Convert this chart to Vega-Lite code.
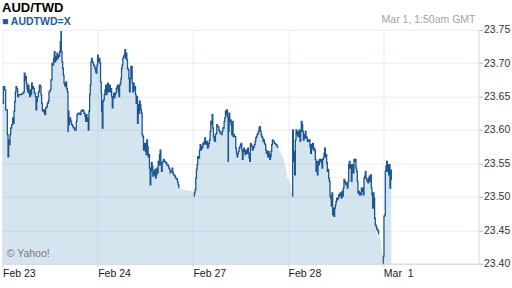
{
  "$schema": "https://vega.github.io/schema/vega-lite/v6.json",
  "width": 476,
  "height": 234,
  "autosize": "none",
  "padding": {"left": 2.5, "top": 29.7, "right": 33.5, "bottom": 24.3},
  "background": "white",
  "config": {
    "view": {"stroke": null},
    "font": "Liberation Sans"
  },
  "title": {
    "text": "AUD/TWD",
    "subtitle": "■ AUDTWD=X",
    "anchor": "start",
    "frame": "group",
    "font": "Liberation Sans",
    "fontSize": 13,
    "fontWeight": "bold",
    "color": "#000000",
    "subtitleFont": "Liberation Sans",
    "subtitleFontSize": 10.5,
    "subtitleFontWeight": "bold",
    "subtitleColor": "#1f5b9a",
    "subtitlePadding": 2,
    "offset": -12.5,
    "dx": -0.5
  },
  "datasets": {
    "fx": [
      {"t":0,"v":23.64,"s":1},{"t":0.009,"v":23.665,"s":1},{"t":0.023,"v":23.66,"s":1},{"t":0.033,"v":23.63,"s":1},{"t":0.044,"v":23.63,"s":1},{"t":0.051,"v":23.593,"s":1},{"t":0.058,"v":23.56,"s":1},{"t":0.065,"v":23.585,"s":1},{"t":0.072,"v":23.578,"s":1},{"t":0.079,"v":23.593,"s":1},{"t":0.086,"v":23.603,"s":1},{"t":0.096,"v":23.608,"s":1},{"t":0.107,"v":23.618,"s":1},{"t":0.114,"v":23.61,"s":1},{"t":0.121,"v":23.628,"s":1},{"t":0.128,"v":23.642,"s":1},{"t":0.135,"v":23.657,"s":1},{"t":0.142,"v":23.665,"s":1},{"t":0.149,"v":23.662,"s":1},{"t":0.159,"v":23.65,"s":1},{"t":0.17,"v":23.653,"s":1},{"t":0.184,"v":23.653,"s":1},{"t":0.198,"v":23.654,"s":1},{"t":0.212,"v":23.655,"s":1},{"t":0.222,"v":23.657,"s":1},{"t":0.229,"v":23.685,"s":1},{"t":0.236,"v":23.675,"s":1},{"t":0.243,"v":23.68,"s":1},{"t":0.25,"v":23.67,"s":1},{"t":0.257,"v":23.662,"s":1},{"t":0.264,"v":23.657,"s":1},{"t":0.271,"v":23.667,"s":1},{"t":0.278,"v":23.655,"s":1},{"t":0.285,"v":23.65,"s":1},{"t":0.292,"v":23.66,"s":1},{"t":0.299,"v":23.653,"s":1},{"t":0.306,"v":23.67,"s":1},{"t":0.313,"v":23.662,"s":1},{"t":0.32,"v":23.665,"s":1},{"t":0.327,"v":23.662,"s":1},{"t":0.334,"v":23.655,"s":1},{"t":0.345,"v":23.65,"s":1},{"t":0.352,"v":23.63,"s":1},{"t":0.359,"v":23.643,"s":1},{"t":0.366,"v":23.65,"s":1},{"t":0.376,"v":23.657,"s":1},{"t":0.387,"v":23.667,"s":1},{"t":0.397,"v":23.665,"s":1},{"t":0.404,"v":23.653,"s":1},{"t":0.411,"v":23.64,"s":1},{"t":0.418,"v":23.63,"s":1},{"t":0.425,"v":23.628,"s":1},{"t":0.432,"v":23.63,"s":1},{"t":0.439,"v":23.625,"s":1},{"t":0.446,"v":23.623,"s":1},{"t":0.453,"v":23.633,"s":1},{"t":0.464,"v":23.635,"s":1},{"t":0.471,"v":23.64,"s":1},{"t":0.481,"v":23.643,"s":1},{"t":0.488,"v":23.657,"s":1},{"t":0.499,"v":23.66,"s":1},{"t":0.509,"v":23.675,"s":1},{"t":0.52,"v":23.7,"s":1},{"t":0.53,"v":23.697,"s":1},{"t":0.537,"v":23.707,"s":1},{"t":0.544,"v":23.717,"s":1},{"t":0.551,"v":23.702,"s":1},{"t":0.558,"v":23.71,"s":1},{"t":0.565,"v":23.705,"s":1},{"t":0.572,"v":23.715,"s":1},{"t":0.579,"v":23.707,"s":1},{"t":0.586,"v":23.712,"s":1},{"t":0.593,"v":23.71,"s":1},{"t":0.6,"v":23.717,"s":1},{"t":0.607,"v":23.732,"s":1},{"t":0.614,"v":23.747,"s":1},{"t":0.618,"v":23.717,"s":1},{"t":0.625,"v":23.702,"s":1},{"t":0.632,"v":23.692,"s":1},{"t":0.639,"v":23.682,"s":1},{"t":0.646,"v":23.67,"s":1},{"t":0.653,"v":23.667,"s":1},{"t":0.66,"v":23.665,"s":1},{"t":0.667,"v":23.672,"s":1},{"t":0.674,"v":23.662,"s":1},{"t":0.681,"v":23.657,"s":1},{"t":0.688,"v":23.598,"s":1},{"t":0.691,"v":23.628,"s":1},{"t":0.698,"v":23.608,"s":1},{"t":0.705,"v":23.618,"s":1},{"t":0.716,"v":23.613,"s":1},{"t":0.726,"v":23.608,"s":1},{"t":0.737,"v":23.605,"s":1},{"t":0.747,"v":23.603,"s":1},{"t":0.758,"v":23.6,"s":1},{"t":0.768,"v":23.6,"s":1},{"t":0.775,"v":23.613,"s":1},{"t":0.782,"v":23.623,"s":1},{"t":0.793,"v":23.625,"s":1},{"t":0.803,"v":23.625,"s":1},{"t":0.814,"v":23.623,"s":1},{"t":0.824,"v":23.628,"s":1},{"t":0.835,"v":23.63,"s":1},{"t":0.845,"v":23.629,"s":1},{"t":0.856,"v":23.625,"s":1},{"t":0.866,"v":23.62,"s":1},{"t":0.873,"v":23.613,"s":1},{"t":0.88,"v":23.623,"s":1},{"t":0.887,"v":23.618,"s":1},{"t":0.894,"v":23.613,"s":1},{"t":0.901,"v":23.6,"s":1},{"t":0.908,"v":23.628,"s":1},{"t":0.915,"v":23.653,"s":1},{"t":0.922,"v":23.667,"s":1},{"t":0.929,"v":23.702,"s":1},{"t":0.936,"v":23.707,"s":1},{"t":0.943,"v":23.702,"s":1},{"t":0.95,"v":23.7,"s":1},{"t":0.957,"v":23.697,"s":1},{"t":0.964,"v":23.695,"s":1},{"t":0.971,"v":23.692,"s":1},{"t":0.978,"v":23.687,"s":1},{"t":0.985,"v":23.685,"s":1},{"t":0.992,"v":23.697,"s":1},{"t":0.999,"v":23.712,"s":1},{"t":1.006,"v":23.702,"s":1},{"t":1.013,"v":23.707,"s":1},{"t":1.023,"v":23.7,"s":1},{"t":1.03,"v":23.672,"s":1},{"t":1.037,"v":23.655,"s":1},{"t":1.041,"v":23.628,"s":1},{"t":1.048,"v":23.603,"s":1},{"t":1.055,"v":23.643,"s":1},{"t":1.062,"v":23.645,"s":1},{"t":1.069,"v":23.653,"s":1},{"t":1.076,"v":23.66,"s":1},{"t":1.083,"v":23.667,"s":1},{"t":1.09,"v":23.653,"s":1},{"t":1.097,"v":23.662,"s":1},{"t":1.104,"v":23.67,"s":1},{"t":1.111,"v":23.657,"s":1},{"t":1.118,"v":23.665,"s":1},{"t":1.125,"v":23.667,"s":1},{"t":1.132,"v":23.657,"s":1},{"t":1.139,"v":23.662,"s":1},{"t":1.146,"v":23.65,"s":1},{"t":1.153,"v":23.633,"s":1},{"t":1.16,"v":23.65,"s":1},{"t":1.167,"v":23.655,"s":1},{"t":1.174,"v":23.648,"s":1},{"t":1.181,"v":23.653,"s":1},{"t":1.188,"v":23.655,"s":1},{"t":1.195,"v":23.662,"s":1},{"t":1.202,"v":23.665,"s":1},{"t":1.209,"v":23.667,"s":1},{"t":1.216,"v":23.657,"s":1},{"t":1.223,"v":23.65,"s":1},{"t":1.23,"v":23.667,"s":1},{"t":1.237,"v":23.67,"s":1},{"t":1.244,"v":23.677,"s":1},{"t":1.25,"v":23.692,"s":1},{"t":1.257,"v":23.697,"s":1},{"t":1.264,"v":23.707,"s":1},{"t":1.271,"v":23.71,"s":1},{"t":1.278,"v":23.712,"s":1},{"t":1.285,"v":23.72,"s":1},{"t":1.292,"v":23.707,"s":1},{"t":1.299,"v":23.715,"s":1},{"t":1.306,"v":23.705,"s":1},{"t":1.313,"v":23.692,"s":1},{"t":1.32,"v":23.69,"s":1},{"t":1.327,"v":23.677,"s":1},{"t":1.334,"v":23.657,"s":1},{"t":1.341,"v":23.677,"s":1},{"t":1.348,"v":23.695,"s":1},{"t":1.355,"v":23.695,"s":1},{"t":1.362,"v":23.67,"s":1},{"t":1.369,"v":23.657,"s":1},{"t":1.376,"v":23.67,"s":1},{"t":1.383,"v":23.66,"s":1},{"t":1.39,"v":23.665,"s":1},{"t":1.397,"v":23.653,"s":1},{"t":1.404,"v":23.64,"s":1},{"t":1.411,"v":23.65,"s":1},{"t":1.418,"v":23.61,"s":1},{"t":1.425,"v":23.638,"s":1},{"t":1.432,"v":23.625,"s":1},{"t":1.439,"v":23.643,"s":1},{"t":1.446,"v":23.638,"s":1},{"t":1.453,"v":23.63,"s":1},{"t":1.46,"v":23.625,"s":1},{"t":1.467,"v":23.593,"s":1},{"t":1.474,"v":23.59,"s":1},{"t":1.481,"v":23.57,"s":1},{"t":1.488,"v":23.578,"s":1},{"t":1.495,"v":23.58,"s":1},{"t":1.502,"v":23.568,"s":1},{"t":1.509,"v":23.563,"s":1},{"t":1.516,"v":23.585,"s":1},{"t":1.523,"v":23.575,"s":1},{"t":1.53,"v":23.56,"s":1},{"t":1.537,"v":23.563,"s":1},{"t":1.544,"v":23.543,"s":1},{"t":1.551,"v":23.518,"s":1},{"t":1.558,"v":23.538,"s":1},{"t":1.565,"v":23.551,"s":1},{"t":1.572,"v":23.546,"s":1},{"t":1.579,"v":23.531,"s":1},{"t":1.586,"v":23.538,"s":1},{"t":1.593,"v":23.533,"s":1},{"t":1.6,"v":23.541,"s":1},{"t":1.607,"v":23.528,"s":1},{"t":1.614,"v":23.533,"s":1},{"t":1.621,"v":23.543,"s":1},{"t":1.628,"v":23.536,"s":1},{"t":1.635,"v":23.553,"s":1},{"t":1.642,"v":23.548,"s":1},{"t":1.649,"v":23.563,"s":1},{"t":1.656,"v":23.57,"s":1},{"t":1.663,"v":23.548,"s":1},{"t":1.67,"v":23.538,"s":1},{"t":1.677,"v":23.551,"s":1},{"t":1.684,"v":23.553,"s":1},{"t":1.691,"v":23.556,"s":1},{"t":1.698,"v":23.553,"s":1},{"t":1.705,"v":23.553,"s":1},{"t":1.712,"v":23.551,"s":1},{"t":1.719,"v":23.551,"s":1},{"t":1.726,"v":23.548,"s":1},{"t":1.733,"v":23.548,"s":1},{"t":1.74,"v":23.546,"s":1},{"t":1.747,"v":23.543,"s":1},{"t":1.754,"v":23.541,"s":1},{"t":1.761,"v":23.536,"s":1},{"t":1.768,"v":23.538,"s":1},{"t":1.775,"v":23.538,"s":1},{"t":1.782,"v":23.543,"s":1},{"t":1.789,"v":23.536,"s":1},{"t":1.796,"v":23.533,"s":1},{"t":1.803,"v":23.533,"s":1},{"t":1.81,"v":23.531,"s":1},{"t":1.817,"v":23.528,"s":1},{"t":1.824,"v":23.528,"s":1},{"t":1.831,"v":23.526,"s":1},{"t":1.838,"v":23.522,"s":1},{"t":1.845,"v":23.518,"s":1},{"t":1.852,"v":23.513,"s":1},
      {"t":1.866,"v":23.512,"s":0},{"t":1.887,"v":23.511,"s":0},{"t":1.915,"v":23.51,"s":0},{"t":1.95,"v":23.509,"s":0},{"t":1.985,"v":23.508,"s":0},{"t":2.006,"v":23.506,"s":0},
      {"t":2.009,"v":23.501,"s":2},{"t":2.016,"v":23.506,"s":2},{"t":2.023,"v":23.511,"s":2},{"t":2.03,"v":23.528,"s":2},{"t":2.037,"v":23.541,"s":2},{"t":2.044,"v":23.548,"s":2},{"t":2.051,"v":23.56,"s":2},{"t":2.062,"v":23.558,"s":2},{"t":2.069,"v":23.57,"s":2},{"t":2.076,"v":23.578,"s":2},{"t":2.083,"v":23.57,"s":2},{"t":2.09,"v":23.575,"s":2},{"t":2.097,"v":23.573,"s":2},{"t":2.104,"v":23.58,"s":2},{"t":2.111,"v":23.578,"s":2},{"t":2.118,"v":23.583,"s":2},{"t":2.125,"v":23.588,"s":2},{"t":2.132,"v":23.58,"s":2},{"t":2.139,"v":23.578,"s":2},{"t":2.146,"v":23.583,"s":2},{"t":2.153,"v":23.573,"s":2},{"t":2.16,"v":23.575,"s":2},{"t":2.167,"v":23.58,"s":2},{"t":2.174,"v":23.585,"s":2},{"t":2.181,"v":23.598,"s":2},{"t":2.188,"v":23.613,"s":2},{"t":2.195,"v":23.608,"s":2},{"t":2.202,"v":23.623,"s":2},{"t":2.209,"v":23.603,"s":2},{"t":2.216,"v":23.59,"s":2},{"t":2.223,"v":23.585,"s":2},{"t":2.23,"v":23.583,"s":2},{"t":2.237,"v":23.593,"s":2},{"t":2.244,"v":23.595,"s":2},{"t":2.251,"v":23.608,"s":2},{"t":2.258,"v":23.605,"s":2},{"t":2.265,"v":23.605,"s":2},{"t":2.272,"v":23.6,"s":2},{"t":2.279,"v":23.598,"s":2},{"t":2.286,"v":23.595,"s":2},{"t":2.293,"v":23.595,"s":2},{"t":2.3,"v":23.593,"s":2},{"t":2.307,"v":23.598,"s":2},{"t":2.314,"v":23.603,"s":2},{"t":2.321,"v":23.603,"s":2},{"t":2.328,"v":23.613,"s":2},{"t":2.335,"v":23.618,"s":2},{"t":2.342,"v":23.628,"s":2},{"t":2.349,"v":23.623,"s":2},{"t":2.356,"v":23.63,"s":2},{"t":2.363,"v":23.62,"s":2},{"t":2.37,"v":23.553,"s":2},{"t":2.373,"v":23.598,"s":2},{"t":2.38,"v":23.625,"s":2},{"t":2.387,"v":23.613,"s":2},{"t":2.394,"v":23.615,"s":2},{"t":2.401,"v":23.608,"s":2},{"t":2.408,"v":23.593,"s":2},{"t":2.415,"v":23.613,"s":2},{"t":2.422,"v":23.59,"s":2},{"t":2.429,"v":23.593,"s":2},{"t":2.436,"v":23.59,"s":2},{"t":2.443,"v":23.59,"s":2},{"t":2.45,"v":23.573,"s":2},{"t":2.457,"v":23.565,"s":2},{"t":2.464,"v":23.56,"s":2},{"t":2.471,"v":23.565,"s":2},{"t":2.478,"v":23.568,"s":2},{"t":2.485,"v":23.573,"s":2},{"t":2.492,"v":23.575,"s":2},{"t":2.499,"v":23.578,"s":2},{"t":2.506,"v":23.58,"s":2},{"t":2.513,"v":23.57,"s":2},{"t":2.52,"v":23.556,"s":2},{"t":2.527,"v":23.568,"s":2},{"t":2.534,"v":23.573,"s":2},{"t":2.541,"v":23.568,"s":2},{"t":2.548,"v":23.563,"s":2},{"t":2.555,"v":23.57,"s":2},{"t":2.562,"v":23.565,"s":2},{"t":2.569,"v":23.568,"s":2},{"t":2.576,"v":23.573,"s":2},{"t":2.583,"v":23.565,"s":2},{"t":2.59,"v":23.558,"s":2},{"t":2.597,"v":23.553,"s":2},{"t":2.604,"v":23.58,"s":2},{"t":2.611,"v":23.578,"s":2},{"t":2.618,"v":23.575,"s":2},{"t":2.625,"v":23.57,"s":2},{"t":2.632,"v":23.573,"s":2},{"t":2.639,"v":23.575,"s":2},{"t":2.646,"v":23.578,"s":2},{"t":2.653,"v":23.583,"s":2},{"t":2.66,"v":23.588,"s":2},{"t":2.667,"v":23.59,"s":2},{"t":2.674,"v":23.593,"s":2},{"t":2.681,"v":23.595,"s":2},{"t":2.688,"v":23.598,"s":2},{"t":2.695,"v":23.603,"s":2},{"t":2.702,"v":23.605,"s":2},{"t":2.709,"v":23.598,"s":2},{"t":2.716,"v":23.593,"s":2},{"t":2.723,"v":23.59,"s":2},{"t":2.73,"v":23.588,"s":2},{"t":2.737,"v":23.583,"s":2},{"t":2.744,"v":23.585,"s":2},{"t":2.751,"v":23.58,"s":2},{"t":2.758,"v":23.578,"s":2},{"t":2.765,"v":23.57,"s":2},{"t":2.772,"v":23.565,"s":2},{"t":2.779,"v":23.568,"s":2},{"t":2.786,"v":23.56,"s":2},{"t":2.793,"v":23.568,"s":2},{"t":2.8,"v":23.563,"s":2},{"t":2.807,"v":23.556,"s":2},{"t":2.814,"v":23.56,"s":2},{"t":2.821,"v":23.568,"s":2},{"t":2.828,"v":23.578,"s":2},{"t":2.835,"v":23.585,"s":2},{"t":2.842,"v":23.583,"s":2},{"t":2.849,"v":23.583,"s":2},{"t":2.856,"v":23.58,"s":2},{"t":2.863,"v":23.58,"s":2},{"t":2.87,"v":23.578,"s":2},{"t":2.877,"v":23.578,"s":2},{"t":2.884,"v":23.575,"s":2},{"t":2.891,"v":23.573,"s":2},
      {"t":2.905,"v":23.57,"s":0},{"t":2.919,"v":23.565,"s":0},{"t":2.933,"v":23.56,"s":0},{"t":2.947,"v":23.556,"s":0},{"t":2.961,"v":23.546,"s":0},{"t":2.975,"v":23.538,"s":0},{"t":2.989,"v":23.528,"s":0},{"t":3.003,"v":23.523,"s":0},{"t":3.017,"v":23.518,"s":0},{"t":3.034,"v":23.508,"s":0},
      {"t":3.041,"v":23.501,"s":3},{"t":3.048,"v":23.6,"s":3},{"t":3.055,"v":23.553,"s":3},{"t":3.062,"v":23.568,"s":3},{"t":3.069,"v":23.533,"s":3},{"t":3.076,"v":23.585,"s":3},{"t":3.083,"v":23.6,"s":3},{"t":3.09,"v":23.593,"s":3},{"t":3.097,"v":23.598,"s":3},{"t":3.104,"v":23.59,"s":3},{"t":3.111,"v":23.595,"s":3},{"t":3.118,"v":23.6,"s":3},{"t":3.125,"v":23.583,"s":3},{"t":3.132,"v":23.598,"s":3},{"t":3.139,"v":23.613,"s":3},{"t":3.146,"v":23.608,"s":3},{"t":3.153,"v":23.598,"s":3},{"t":3.16,"v":23.585,"s":3},{"t":3.167,"v":23.593,"s":3},{"t":3.174,"v":23.588,"s":3},{"t":3.181,"v":23.598,"s":3},{"t":3.188,"v":23.59,"s":3},{"t":3.195,"v":23.588,"s":3},{"t":3.202,"v":23.583,"s":3},{"t":3.209,"v":23.585,"s":3},{"t":3.216,"v":23.583,"s":3},{"t":3.223,"v":23.585,"s":3},{"t":3.23,"v":23.575,"s":3},{"t":3.237,"v":23.565,"s":3},{"t":3.244,"v":23.578,"s":3},{"t":3.251,"v":23.573,"s":3},{"t":3.258,"v":23.58,"s":3},{"t":3.265,"v":23.57,"s":3},{"t":3.272,"v":23.573,"s":3},{"t":3.279,"v":23.57,"s":3},{"t":3.286,"v":23.556,"s":3},{"t":3.293,"v":23.538,"s":3},{"t":3.3,"v":23.553,"s":3},{"t":3.307,"v":23.533,"s":3},{"t":3.314,"v":23.553,"s":3},{"t":3.321,"v":23.548,"s":3},{"t":3.328,"v":23.556,"s":3},{"t":3.335,"v":23.553,"s":3},{"t":3.342,"v":23.556,"s":3},{"t":3.349,"v":23.551,"s":3},{"t":3.356,"v":23.543,"s":3},{"t":3.363,"v":23.556,"s":3},{"t":3.37,"v":23.558,"s":3},{"t":3.377,"v":23.565,"s":3},{"t":3.384,"v":23.573,"s":3},{"t":3.391,"v":23.56,"s":3},{"t":3.398,"v":23.563,"s":3},{"t":3.405,"v":23.551,"s":3},{"t":3.412,"v":23.538,"s":3},{"t":3.419,"v":23.541,"s":3},{"t":3.426,"v":23.528,"s":3},{"t":3.433,"v":23.523,"s":3},{"t":3.44,"v":23.501,"s":3},{"t":3.447,"v":23.498,"s":3},{"t":3.454,"v":23.486,"s":3},{"t":3.461,"v":23.506,"s":3},{"t":3.468,"v":23.473,"s":3},{"t":3.475,"v":23.483,"s":3},{"t":3.482,"v":23.471,"s":3},{"t":3.489,"v":23.483,"s":3},{"t":3.496,"v":23.488,"s":3},{"t":3.503,"v":23.493,"s":3},{"t":3.51,"v":23.498,"s":3},{"t":3.517,"v":23.496,"s":3},{"t":3.524,"v":23.498,"s":3},{"t":3.531,"v":23.503,"s":3},{"t":3.538,"v":23.501,"s":3},{"t":3.545,"v":23.506,"s":3},{"t":3.552,"v":23.503,"s":3},{"t":3.559,"v":23.498,"s":3},{"t":3.566,"v":23.508,"s":3},{"t":3.573,"v":23.501,"s":3},{"t":3.58,"v":23.513,"s":3},{"t":3.587,"v":23.526,"s":3},{"t":3.594,"v":23.523,"s":3},{"t":3.601,"v":23.521,"s":3},{"t":3.608,"v":23.518,"s":3},{"t":3.615,"v":23.521,"s":3},{"t":3.622,"v":23.513,"s":3},{"t":3.629,"v":23.523,"s":3},{"t":3.636,"v":23.548,"s":3},{"t":3.643,"v":23.553,"s":3},{"t":3.65,"v":23.543,"s":3},{"t":3.657,"v":23.548,"s":3},{"t":3.664,"v":23.523,"s":3},{"t":3.671,"v":23.548,"s":3},{"t":3.678,"v":23.546,"s":3},{"t":3.685,"v":23.536,"s":3},{"t":3.692,"v":23.556,"s":3},{"t":3.699,"v":23.553,"s":3},{"t":3.706,"v":23.556,"s":3},{"t":3.713,"v":23.543,"s":3},{"t":3.72,"v":23.538,"s":3},{"t":3.727,"v":23.523,"s":3},{"t":3.734,"v":23.506,"s":3},{"t":3.741,"v":23.508,"s":3},{"t":3.748,"v":23.503,"s":3},{"t":3.755,"v":23.506,"s":3},{"t":3.762,"v":23.503,"s":3},{"t":3.769,"v":23.513,"s":3},{"t":3.776,"v":23.508,"s":3},{"t":3.783,"v":23.513,"s":3},{"t":3.79,"v":23.503,"s":3},{"t":3.797,"v":23.528,"s":3},{"t":3.804,"v":23.531,"s":3},{"t":3.811,"v":23.538,"s":3},{"t":3.818,"v":23.528,"s":3},{"t":3.825,"v":23.526,"s":3},{"t":3.832,"v":23.523,"s":3},{"t":3.839,"v":23.521,"s":3},{"t":3.846,"v":23.528,"s":3},{"t":3.853,"v":23.531,"s":3},{"t":3.86,"v":23.523,"s":3},{"t":3.867,"v":23.533,"s":3},{"t":3.874,"v":23.513,"s":3},{"t":3.881,"v":23.503,"s":3},{"t":3.888,"v":23.483,"s":3},{"t":3.895,"v":23.506,"s":3},{"t":3.902,"v":23.498,"s":3},{"t":3.909,"v":23.468,"s":3},{"t":3.916,"v":23.458,"s":3},{"t":3.923,"v":23.456,"s":3},{"t":3.93,"v":23.452,"s":3},{"t":3.937,"v":23.451,"s":3},{"t":3.944,"v":23.449,"s":3},{"t":3.951,"v":23.444,"s":3},
      {"t":3.965,"v":23.436,"s":0},{"t":3.979,"v":23.424,"s":0},{"t":3.986,"v":23.414,"s":0},{"t":3.993,"v":23.401,"s":0},
      {"t":3.996,"v":23.4,"s":4},{"t":4.0,"v":23.411,"s":4},{"t":4.007,"v":23.471,"s":4},{"t":4.014,"v":23.473,"s":4},{"t":4.021,"v":23.538,"s":4},{"t":4.028,"v":23.546,"s":4},{"t":4.035,"v":23.553,"s":4},{"t":4.042,"v":23.538,"s":4},{"t":4.049,"v":23.548,"s":4},{"t":4.056,"v":23.533,"s":4},{"t":4.063,"v":23.548,"s":4},{"t":4.07,"v":23.513,"s":4},{"t":4.077,"v":23.526,"s":4},{"t":4.084,"v":23.541,"s":4}
    ],
    "notes": [
      {"t": 5, "v": 23.7607, "label": "Mar 1, 1:50am GMT", "kind": "stamp"},
      {"t": 0.044, "v": 23.4093, "label": "© Yahoo!", "kind": "credit"}
    ]
  },
  "data": {"name": "fx"},
  "encoding": {
    "x": {
      "field": "t", "type": "quantitative", "title": null,
      "scale": {"domain": [0, 5], "nice": false, "zero": false},
      "axis": {
        "values": [0, 1, 2, 3, 4],
        "labelExpr": "['Feb 23','Feb 24','Feb 27','Feb 28','Mar\u00a0 1'][datum.value]",
        "labelAlign": "left",
        "labelFont": "Liberation Sans",
        "labelFontSize": 10.5,
        "labelColor": "#1a1a1a",
        "labelPadding": 2,
        "labelFlush": false,
        "labelOverlap": false,
        "tickSize": 3,
        "tickColor": "#c8cfd8",
        "domainColor": "#d0d6dd",
        "grid": true,
        "gridColor": "#6f93b8",
        "gridOpacity": 0.16,
        "zindex": 1
      }
    },
    "y": {
      "field": "v", "type": "quantitative", "title": null,
      "scale": {"domain": [23.4, 23.75], "nice": false, "zero": false},
      "axis": {
        "orient": "right",
        "values": [23.4, 23.45, 23.5, 23.55, 23.6, 23.65, 23.7, 23.75],
        "format": ".2f",
        "labelFont": "Liberation Sans",
        "labelFontSize": 10.5,
        "labelColor": "#333333",
        "labelPadding": 1,
        "labelFlush": false,
        "labelOverlap": false,
        "tickSize": 4,
        "tickColor": "#b8b8b8",
        "domainColor": "#d8dde3",
        "grid": true,
        "gridColor": "#6f93b8",
        "gridOpacity": 0.16,
        "zindex": 1
      }
    }
  },
  "layer": [
    {
      "mark": {"type": "area", "interpolate": "step-after", "color": "#d5e5f0"},
      "encoding": {
        "y2": {"datum": 23.4}
      }
    },
    {
      "transform": [{"filter": "datum.s > 0"}],
      "mark": {"type": "line", "interpolate": "step-after", "color": "#1c5590", "strokeWidth": 1.3},
      "encoding": {
        "detail": {"field": "s", "type": "nominal"}
      }
    },
    {
      "data": {"name": "notes"},
      "transform": [{"filter": "datum.kind == 'stamp'"}],
      "mark": {"type": "text", "align": "right", "baseline": "alphabetic", "font": "Liberation Sans", "fontSize": 10.5, "color": "#a3a3a3", "dx": -3},
      "encoding": {
        "text": {"field": "label", "type": "nominal"}
      }
    },
    {
      "data": {"name": "notes"},
      "transform": [{"filter": "datum.kind == 'credit'"}],
      "mark": {"type": "text", "align": "left", "baseline": "alphabetic", "font": "Liberation Sans", "fontSize": 10.5, "color": "#777777"},
      "encoding": {
        "text": {"field": "label", "type": "nominal"}
      }
    }
  ]
}
